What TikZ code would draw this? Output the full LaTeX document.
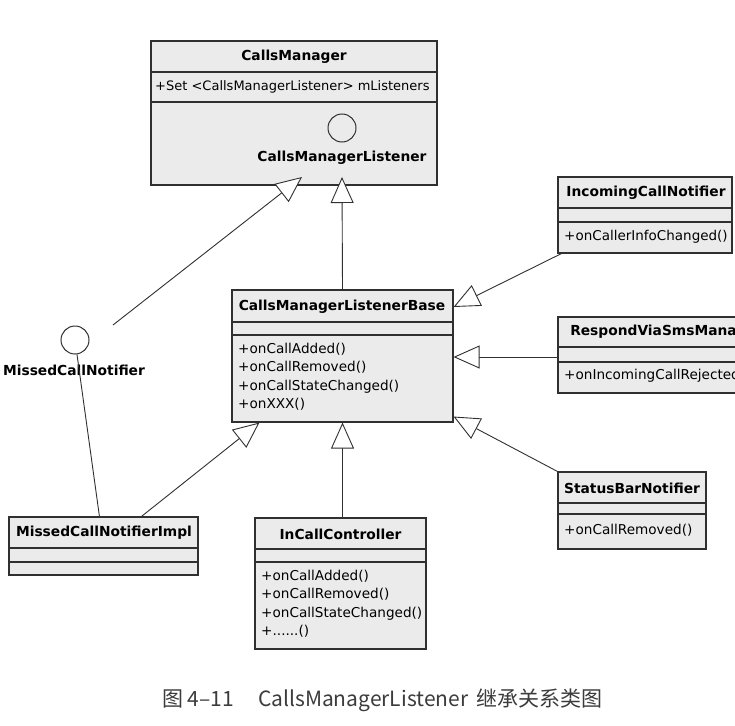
\documentclass[tikz,border=0pt]{standalone}
\usepackage{fontspec}
\setmainfont{DejaVu Sans}
\newfontfamily\cjk{Noto Sans CJK SC}
\usetikzlibrary{arrows.meta}

\definecolor{boxgray}{HTML}{EBEBEB}
\definecolor{linegray}{HTML}{303030}
\definecolor{capgray}{HTML}{3C3C3C}

\newcommand{\sixdots}{......}

\tikzstyle{cls}=[rectangle, draw=linegray, fill=boxgray, line width=1.1pt, inner sep=0pt]
\tikzstyle{sep}=[draw=linegray, line width=1.1pt]
\tikzstyle{title}=[font=\bfseries\fontsize{13.8}{16}\selectfont, inner sep=0pt]
\tikzstyle{op}=[font=\fontsize{13.6}{16}\selectfont, inner sep=0pt, anchor=west, text height=10pt, text depth=3pt]
\tikzstyle{iface}=[circle, draw=linegray, line width=1pt, minimum size=28pt, inner sep=0pt]
\tikzstyle{plain}=[draw=linegray, line width=0.9pt]
\tikzstyle{inherit}=[plain, -{Triangle[length=26pt, width=23pt, fill=white]}]

\begin{document}
\begin{tikzpicture}[x=1pt, y=-1pt]
	% Background, frame
	\fill[white] (0,0) rectangle (735,725);
	\useasboundingbox (0,0) rectangle (735,725);
	\clip (0,0) rectangle (735,725);

	% Classes
	\node[cls, minimum width=286pt, minimum height=144pt] (manager) at (294,113) {};
	\node[cls, minimum width=221pt, minimum height=132pt] (base) at (342.5,356) {};
	\node[cls, minimum width=189pt, minimum height=58pt] (impl) at (103.5,546) {};
	\node[cls, minimum width=171pt, minimum height=131pt] (ctrl) at (340.5,583.5) {};
	\node[cls, minimum width=174pt, minimum height=76pt] (incoming) at (645,215) {};
	\node[cls, minimum width=217pt, minimum height=76pt] (respond) at (666.5,355) {};
	\node[cls, minimum width=148pt, minimum height=77pt] (status) at (632,510.5) {};

	% Compartments
	\foreach \n/\a/\b in {manager/72/102, base/322/335, impl/548/562, ctrl/549/562,
		incoming/208/222, respond/347/362, status/503/514} {
		\draw[sep] (\n.west |- 0,\a) -- (\n.east |- 0,\a);
		\draw[sep] (\n.west |- 0,\b) -- (\n.east |- 0,\b);
	}

	% Class names
	\foreach \n/\x/\y/\t in {manager/294/57/CallsManager, base/342/307/CallsManagerListenerBase,
		impl/104/533/MissedCallNotifierImpl, ctrl/340.5/534/InCallController,
		incoming/646/193/IncomingCallNotifier, respond/666.5/332/RespondViaSmsManager,
		status/632/488/StatusBarNotifier} {
		\node[title] (\n-title) at (\x,\y) {\t};
	}

	% Members
	\node[op, font=\fontsize{13}{16}\selectfont] (manager-attr) at (155,87) {+Set <CallsManagerListener> mListeners};
	\foreach \m [count=\i] in {onCallAdded(), onCallRemoved(), onCallStateChanged(), onXXX()} {
		\node[op] (base-op\i) at (238,{350+18.3*(\i-1)}) {+\m};
	}
	\foreach \m [count=\i] in {onCallAdded(), onCallRemoved(), onCallStateChanged(), \sixdots()} {
		\node[op] (ctrl-op\i) at (261,{577+18.3*(\i-1)}) {+\m};
	}
	\node[op, font=\fontsize{13.5}{16}\selectfont] (incoming-op) at (564,237) {+onCallerInfoChanged()};
	\node[op] (respond-op) at (564,376) {+onIncomingCallRejected()};
	\node[op] (status-op) at (564,531) {+onCallRemoved()};

	% Interfaces
	\node[iface] (listener) at (342,128) {};
	\node[title] (listener-label) at (342,158) {CallsManagerListener};
	\node[iface] (missed) at (75,340) {};
	\node[title] (missed-label) at (74,370) {MissedCallNotifier};

	% Connectors
	\coordinate (listener-tip) at (342,177);
	\coordinate (listener-tip2) at (302,177);
	\coordinate (missed-end) at (113,325);
	\draw[inherit] (base.north) -- (listener-tip);
	\draw[inherit] (missed-end) -- (listener-tip2);
	\draw[plain] (missed) -- ([xshift=91pt]impl.north west);
	\draw[inherit] ([xshift=133pt]impl.north west) -- ([xshift=28pt]base.south west);
	\draw[inherit] (base.south |- ctrl.north) -- (base.south);
	\draw[inherit] ([xshift=4pt]incoming.south west) -- (base.east |- base-title);
	\draw[inherit] ([yshift=-2pt]respond.west) -- ([yshift=-2pt]respond.west -| base.east);
	\draw[inherit] (status.north west) -- ([yshift=6pt]base.south east);

	% Caption
	\node[anchor=west, inner sep=0pt, text=capgray, font=\cjk\fontsize{21}{24}\selectfont] (caption) at (162,700)
		{图 4–11\hspace{24pt}CallsManagerListener\hspace{8pt}继承关系类图};
\end{tikzpicture}
\end{document}
